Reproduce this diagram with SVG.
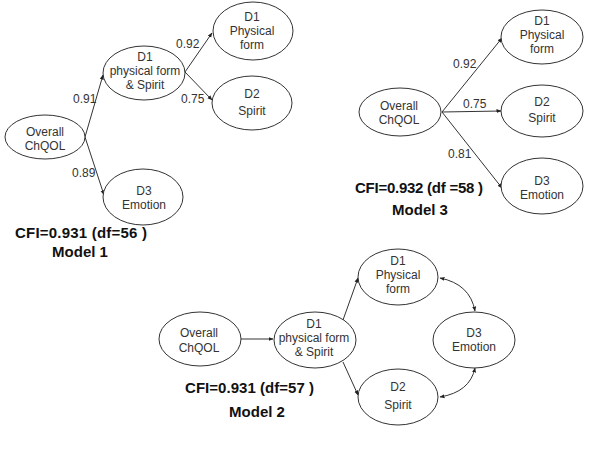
<svg xmlns="http://www.w3.org/2000/svg" width="600" height="450" viewBox="0 0 600 450">
<defs>
<marker id="ah" viewBox="0 0 10 10" refX="9" refY="5" markerWidth="5" markerHeight="5" orient="auto-start-reverse" markerUnits="userSpaceOnUse">
<path d="M0,1 L10,5 L0,9 z" fill="#222"/>
</marker>
</defs>
<style>
.n ellipse{fill:#fff;stroke:#333;stroke-width:1}
.n text,.lbl{font-family:"Liberation Sans",Arial,sans-serif;font-size:12px;fill:#333;text-anchor:middle}
.lbl{text-anchor:start}
.e{fill:none;stroke:#333;stroke-width:1;marker-end:url(#ah)}
.b{marker-start:url(#ah)}
.t{font-family:"Liberation Sans",Arial,sans-serif;font-size:15px;font-weight:bold;fill:#111}
</style>
<rect width="600" height="450" fill="#fff"/>
<g id="connectors">
<path class="e" d="M85,137 L103,75"/>
<path class="e" d="M85,137 L104,195"/>
<path class="e" d="M185,72 L212,33"/>
<path class="e" d="M185,72 L212,100"/>
<path class="e" d="M442,112 L502,38"/>
<path class="e" d="M442,112 L501,111"/>
<path class="e" d="M442,112 L502,188"/>
<path class="e" d="M240,339 L273,339"/>
<path class="e" d="M343,320 L358,278"/>
<path class="e" d="M343,362 L358,395"/>
<path class="e b" d="M440,278 Q470,284 475,311"/>
<path class="e b" d="M440,397 Q470,392 475,368"/>
</g>
<g id="edge-labels">
<text class="lbl" x="73" y="103">0.91</text>
<text class="lbl" x="72" y="177">0.89</text>
<text class="lbl" x="176" y="48">0.92</text>
<text class="lbl" x="181" y="103">0.75</text>
<text class="lbl" x="453" y="68">0.92</text>
<text class="lbl" x="463" y="108">0.75</text>
<text class="lbl" x="448" y="158">0.81</text>
</g>
<g id="m1-overall" class="n"><ellipse cx="45" cy="137" rx="40" ry="22"/><text x="45" y="136">Overall</text><text x="45" y="150">ChQOL</text></g>
<g id="m1-d1ps" class="n"><ellipse cx="144" cy="73" rx="41" ry="27"/><text x="145" y="61">D1</text><text x="145" y="75">physical form</text><text x="145" y="89">&amp; Spirit</text></g>
<g id="m1-d1pf" class="n"><ellipse cx="253" cy="31" rx="40" ry="29"/><text x="252" y="21">D1</text><text x="252" y="35">Physical</text><text x="252" y="49">form</text></g>
<g id="m1-d2" class="n"><ellipse cx="252" cy="103" rx="40" ry="27"/><text x="252" y="98">D2</text><text x="252" y="115">Spirit</text></g>
<g id="m1-d3" class="n"><ellipse cx="143" cy="197" rx="40" ry="28"/><text x="144" y="195">D3</text><text x="144" y="209">Emotion</text></g>
<text class="t" x="15" y="238" textLength="132">CFI=0.931 (df=56  )</text>
<text class="t" x="80" y="257" text-anchor="middle">Model 1</text>
<g id="m3-overall" class="n"><ellipse cx="400" cy="112" rx="41" ry="24"/><text x="399" y="110">Overall</text><text x="399" y="124">ChQOL</text></g>
<g id="m3-d1pf" class="n"><ellipse cx="542" cy="37" rx="41" ry="27"/><text x="542" y="25">D1</text><text x="542" y="39">Physical</text><text x="542" y="53">form</text></g>
<g id="m3-d2" class="n"><ellipse cx="542" cy="111" rx="41" ry="26"/><text x="542" y="106">D2</text><text x="542" y="122">Spirit</text></g>
<g id="m3-d3" class="n"><ellipse cx="542" cy="186" rx="41" ry="28"/><text x="542" y="185">D3</text><text x="542" y="199">Emotion</text></g>
<text class="t" x="355" y="193" textLength="128">CFI=0.932 (df =58 )</text>
<text class="t" x="420" y="215" text-anchor="middle">Model 3</text>
<g id="m2-overall" class="n"><ellipse cx="200" cy="339" rx="41" ry="27"/><text x="199" y="337">Overall</text><text x="199" y="352">ChQOL</text></g>
<g id="m2-d1ps" class="n"><ellipse cx="315" cy="340" rx="41" ry="28"/><text x="314" y="328">D1</text><text x="314" y="342">physical form</text><text x="314" y="356">&amp; Spirit</text></g>
<g id="m2-d1pf" class="n"><ellipse cx="398" cy="277" rx="40" ry="28"/><text x="398" y="265">D1</text><text x="398" y="279">Physical</text><text x="398" y="293">form</text></g>
<g id="m2-d3" class="n"><ellipse cx="474" cy="340" rx="41" ry="28"/><text x="474" y="337">D3</text><text x="474" y="351">Emotion</text></g>
<g id="m2-d2" class="n"><ellipse cx="398" cy="397" rx="40" ry="28"/><text x="398" y="391">D2</text><text x="398" y="409">Spirit</text></g>
<text class="t" x="185" y="393" textLength="129">CFI=0.931 (df=57  )</text>
<text class="t" x="257" y="417" text-anchor="middle">Model 2</text>
</svg>
